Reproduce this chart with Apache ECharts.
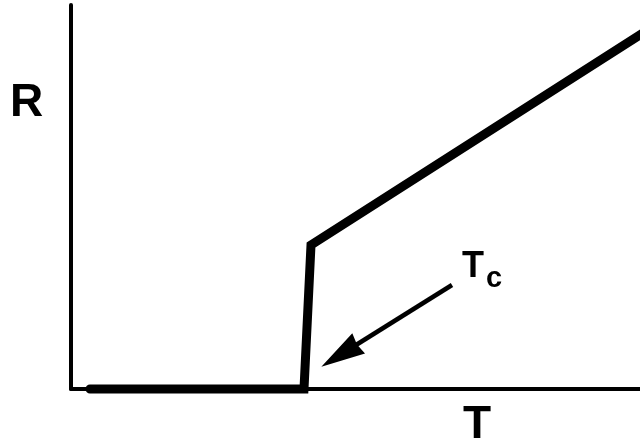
<!DOCTYPE html>
<html>
<head>
<meta charset="UTF-8">
<script src="https://cdn.jsdelivr.net/npm/echarts@6/dist/echarts.min.js"></script>
<style>
  html, body { margin: 0; padding: 0; background: #fff; }
  #main { width: 640px; height: 444px; }
</style>
</head>
<body>
<div id="main"></div>
<script>
  // schematic resistance vs temperature, arbitrary units
  const temps = [19, 233, 240, 575];
  const resist = [0, 0, 144, 358];
  // arrow from the label towards the transition (end = middle of the head)
  const arrowFrom = [381, 104];
  const arrowTo = [269, 34];

  const font = '"Liberation Sans", Arial, sans-serif';
  const chart = echarts.init(document.getElementById('main'), null, { renderer: 'canvas' });
  chart.setOption({
    animation: false,
    grid: { left: 71, right: 0, top: 5, bottom: 55 },
    xAxis: {
      type: 'value', min: 0, max: 569,
      axisLine: { show: true, lineStyle: { color: '#000', width: 4, cap: 'round' } },
      axisTick: { show: false }, axisLabel: { show: false }, splitLine: { show: false }
    },
    yAxis: {
      type: 'value', min: 0, max: 384,
      axisLine: { show: true, lineStyle: { color: '#000', width: 4, cap: 'round' } },
      axisTick: { show: false }, axisLabel: { show: false }, splitLine: { show: false }
    },
    series: [{
      type: 'line',
      symbol: 'none',
      clip: false,
      data: temps.map((t, i) => [t, resist[i]]),
      lineStyle: { color: '#000', width: 9, cap: 'round', join: 'miter' },
      markLine: {
        silent: true,
        symbol: ['none', 'path://M0,0 L11,44 L0,42 L-11,44 Z'],
        symbolSize: [24, 44],
        label: { show: false },
        lineStyle: { color: '#000', width: 4.5, type: 'solid' },
        data: [[{ coord: arrowFrom }, { coord: arrowTo }]]
      }
    }],
    graphic: [
      { type: 'text', left: 10, top: 80, style: { text: 'R', font: 'bold 46px ' + font, fill: '#000' } },
      { type: 'text', left: 463, top: 402, style: { text: 'T', font: 'bold 46px ' + font, fill: '#000' } },
      { type: 'text', left: 462, top: 249, style: {
          text: '{a|T}{b|c}', fill: '#000',
          rich: {
            a: { font: 'bold 36px ' + font, padding: [0, 0, 8, 0], verticalAlign: 'bottom' },
            b: { font: 'bold 29px ' + font, padding: [0, 0, 0, 2], verticalAlign: 'bottom' }
          }
      } }
    ]
  });
</script>
</body>
</html>
